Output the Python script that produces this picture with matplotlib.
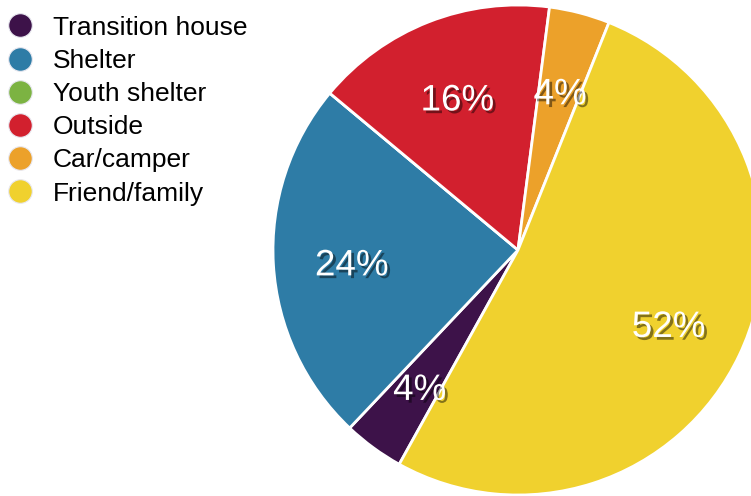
import matplotlib.pyplot as plt
import matplotlib.patheffects as pe
from matplotlib.lines import Line2D

# Data
labels = ["Transition house", "Shelter", "Youth shelter", "Outside", "Car/camper", "Friend/family"]
counts = [1, 6, 0, 4, 1, 13]
colors = ["#3d1249", "#2e7ca6", "#7cb342", "#d2202e", "#eca12a", "#f0d12e"]

plt.rcParams['font.family'] = ['Liberation Sans', 'DejaVu Sans']

fig = plt.figure(figsize=(7.51, 4.96), dpi=100)
ax = fig.add_axes([0, 0, 1, 1])

r_px = 245.0
cx, cy = 518.0, 250.0


def fmt(p):
    return "" if p < 0.5 else "%d%%" % round(p)


wedges, texts, autotexts = ax.pie(
    counts, colors=colors, startangle=241, counterclock=False,
    autopct=fmt, pctdistance=0.68,
    wedgeprops=dict(edgecolor="white", linewidth=2),
    textprops=dict(color="white", fontsize=26.5))

for t in autotexts:
    x, y = t.get_position()
    t.set_position((x, y - 6 / r_px))
    t.set_path_effects([pe.withSimplePatchShadow(offset=(2, -2), shadow_rgbFace="black", alpha=0.45)])

ax.set_aspect("auto")
ax.set_xlim(-cx / r_px, (751 - cx) / r_px)
ax.set_ylim(-(496 - cy) / r_px, cy / r_px)
ax.axis("off")

handles = [Line2D([], [], marker="o", linestyle="", markersize=17,
                  markerfacecolor=c, markeredgecolor="#e8e8f0", markeredgewidth=0.8)
           for c in colors]
fig.legend(handles, labels, loc="upper left", bbox_to_anchor=(-0.008, 0.99),
           frameon=False, fontsize=19, handletextpad=0.63, labelspacing=0.35,
           handlelength=1.2, borderaxespad=0)

fig.savefig("out.png", dpi=100)
